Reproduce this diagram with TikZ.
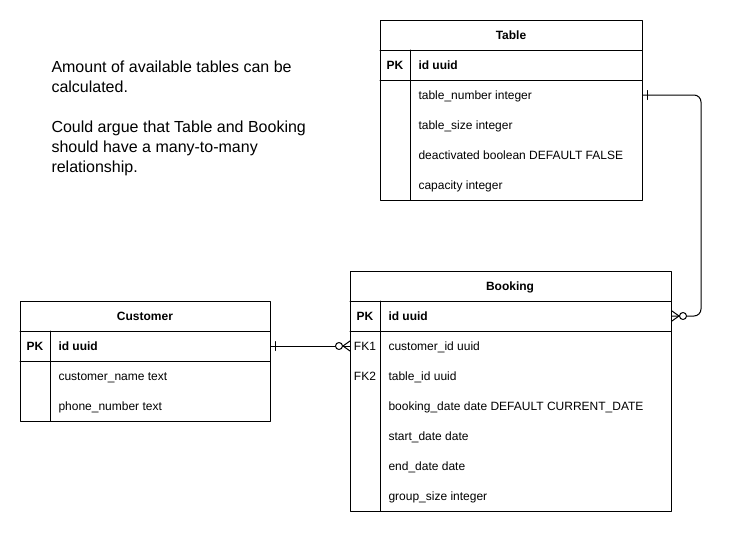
\documentclass[tikz,border=0pt]{standalone}
\usepackage{fontspec}
\setmainfont{Liberation Sans}
\usetikzlibrary{calc}

\begin{document}
\begin{tikzpicture}[line cap=round,line join=round,x=1pt,y=-1pt,line width=1pt,
		ent/.style={draw,anchor=north west,inner sep=0pt},
		ttl/.style={inner sep=0pt,text height=10.5pt,text depth=2pt,font=\fontsize{12}{14}\selectfont\bfseries},
		fld/.style={anchor=west,inner sep=0pt,text height=10.5pt,text depth=2pt,font=\fontsize{12}{14}\selectfont},
		key/.style={fld,font=\fontsize{12}{14}\selectfont\bfseries},
		tag/.style={inner sep=0pt,text height=10.5pt,text depth=2pt,font=\fontsize{12}{14}\selectfont}]
		\useasboundingbox (0,0) rectangle (732,533);
		% note
		\node[anchor=north west,inner sep=0pt,align=left,font=\fontsize{16}{20}\selectfont] (note) at (51,60)
			{Amount of available tables can be\\calculated.\\[20pt]Could argue that Table and Booking\\should have a many-to-many\\relationship.};
		% Table
		\node[ent,minimum width=262pt,minimum height=180pt] (table) at (380,20) {};
		\draw (380,50) -- (642,50);
		\draw (380,80) -- (642,80);
		\draw (410,50) -- (410,200);
		\node[ttl] (tabttl) at (511,35) {Table};
		\node[key,anchor=center] (tabpk) at (395,65) {PK};
		\node[key] (tabid) at (418,65) {id uuid};
		\node[fld] (tabnum) at (418,95) {table\_number integer};
		\node[fld] (tabsize) at (418,125) {table\_size integer};
		\node[fld] (tabdeact) at (418,155) {deactivated boolean DEFAULT FALSE};
		\node[fld] (tabcap) at (418,185) {capacity integer};
		% Customer
		\node[ent,minimum width=250pt,minimum height=120pt] (customer) at (20,301) {};
		\draw (20,331) -- (270,331);
		\draw (20,361) -- (270,361);
		\draw (50,331) -- (50,421);
		\node[ttl] (custtl) at (145,316) {Customer};
		\node[key,anchor=center] (cuspk) at (35,346) {PK};
		\node[key] (cusid) at (58,346) {id uuid};
		\node[fld] (cusname) at (58,376) {customer\_name text};
		\node[fld] (cusphone) at (58,406) {phone\_number text};
		% Booking
		\node[ent,minimum width=321pt,minimum height=240pt] (booking) at (350,271) {};
		\draw (350,301) -- (671,301);
		\draw (350,331) -- (671,331);
		\draw (380,301) -- (380,511);
		\node[ttl] (bokttl) at (510,286) {Booking};
		\node[key,anchor=center] (bokpk) at (365,316) {PK};
		\node[tag] (bokfka) at (365,346) {FK1};
		\node[tag] (bokfkb) at (365,376) {FK2};
		\node[key] (bokid) at (388,316) {id uuid};
		\node[fld] (bokcus) at (388,346) {customer\_id uuid};
		\node[fld] (boktab) at (388,376) {table\_id uuid};
		\node[fld] (bokdate) at (388,406) {booking\_date date DEFAULT CURRENT\_DATE};
		\node[fld] (bokstart) at (388,436) {start\_date date};
		\node[fld] (bokend) at (388,466) {end\_date date};
		\node[fld] (boksize) at (388,496) {group\_size integer};
		% Table -> Booking
		\coordinate (tabend) at (tabnum -| table.east);
		\coordinate (bokidend) at (bokid -| booking.east);
		\draw[rounded corners=7pt] (tabend) -- ++(58,0) |- (bokidend);
		\draw (tabend) ++(4,-4.5) -- ++(0,9);
		\draw (bokidend) ++(0,-5) -- ++(7,5) -- ++(-7,5);
		\draw[fill=white] ($(bokidend)+(11,0)$) circle (3.5pt);
		% Customer -> Booking
		\coordinate (cusend) at (cusid -| customer.east);
		\coordinate (bokfkend) at (bokcus -| booking.west);
		\draw (cusend) -- (bokfkend);
		\draw (cusend) ++(4,-4.5) -- ++(0,9);
		\draw (bokfkend) ++(0,-5) -- ++(-7,5) -- ++(7,5);
		\draw[fill=white] ($(bokfkend)+(-11,0)$) circle (3.5pt);
	\end{tikzpicture}
\end{document}
